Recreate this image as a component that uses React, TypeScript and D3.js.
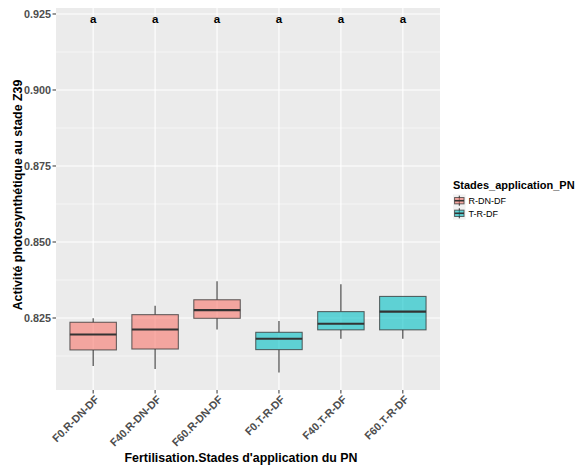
import React from "react";
import * as d3 from "d3";

// Groups (Fertilisation.Stades) and their application stage
const categories = ["F0.R-DN-DF", "F40.R-DN-DF", "F60.R-DN-DF", "F0.T-R-DF", "F40.T-R-DF", "F60.T-R-DF"];
const stages = ["R-DN-DF", "R-DN-DF", "R-DN-DF", "T-R-DF", "T-R-DF", "T-R-DF"];
// Five-number summaries per group
const whiskerLow = [0.8092, 0.8082, 0.8212, 0.8071, 0.8182, 0.8182];
const q1 = [0.8145, 0.8148, 0.8249, 0.8146, 0.8211, 0.8211];
const median = [0.8196, 0.8212, 0.8276, 0.8182, 0.8231, 0.8271];
const q3 = [0.8236, 0.8261, 0.8310, 0.8203, 0.8271, 0.8321];
const whiskerHigh = [0.8249, 0.8290, 0.8371, 0.8240, 0.8361, 0.8321];
// Significance letters
const letters = ["a", "a", "a", "a", "a", "a"];
const letterY = 0.9232;

const yTicks = [0.825, 0.85, 0.875, 0.9, 0.925];
const yMinor = [0.8125, 0.8375, 0.8625, 0.8875, 0.9125];
const yDomain = [0.80132, 0.92697];

const legendLevels = ["R-DN-DF", "T-R-DF"];
const legendColors = ["#F8766D", "#00BFC4"];

const W = 576;
const H = 469;
const panel = { left: 56, right: 440, top: 8, bottom: 390 };
const FONT = "'Liberation Sans', Arial, Helvetica, sans-serif";

export default function App() {
  // discrete axis: expansion of 0.6 units each side
  const x = d3
    .scalePoint<string>()
    .domain(categories)
    .range([panel.left, panel.right])
    .padding(0.6);
  const cx = (i: number) => x(categories[i]) as number;
  const step = x.step();
  const y = d3.scaleLinear().domain(yDomain).range([panel.bottom, panel.top]);
  const color = d3.scaleOrdinal<string, string>().domain(legendLevels).range(legendColors);
  const boxW = step * 0.75;

  const keyX = 453;
  const keySize = 12.6;
  const keyY0 = 194.4;

  return (
    <svg width={W} height={H} style={{ position: "absolute", left: 0, top: 0, background: "#fff" }} fontFamily={FONT}>
      <rect x={0} y={0} width={W} height={H} fill="#fff" />
      {/* panel */}
      <rect x={panel.left} y={panel.top} width={panel.right - panel.left} height={panel.bottom - panel.top} fill="#EBEBEB" />
      {yMinor.map((v) => (
        <line key={"mn" + v} x1={panel.left} x2={panel.right} y1={y(v)} y2={y(v)} stroke="#fff" strokeWidth={0.55} />
      ))}
      {yTicks.map((v) => (
        <line key={"mj" + v} x1={panel.left} x2={panel.right} y1={y(v)} y2={y(v)} stroke="#fff" strokeWidth={1.1} />
      ))}
      {categories.map((c, i) => (
        <line key={"vx" + c} x1={cx(i)} x2={cx(i)} y1={panel.top} y2={panel.bottom} stroke="#fff" strokeWidth={1.1} />
      ))}

      {/* boxes */}
      {categories.map((c, i) => {
        const xc = cx(i);
        const fill = color(stages[i]);
        return (
          <g key={"b" + c}>
            <line x1={xc} x2={xc} y1={y(q3[i])} y2={y(whiskerHigh[i])} stroke="#333" strokeWidth={1.07} />
            <line x1={xc} x2={xc} y1={y(q1[i])} y2={y(whiskerLow[i])} stroke="#333" strokeWidth={1.07} />
            <rect
              x={xc - boxW / 2}
              y={y(q3[i])}
              width={boxW}
              height={y(q1[i]) - y(q3[i])}
              fill={fill}
              fillOpacity={0.6}
              stroke="#333"
              strokeOpacity={0.75}
              strokeWidth={1.07}
            />
            <line x1={xc - boxW / 2} x2={xc + boxW / 2} y1={y(median[i])} y2={y(median[i])} stroke="#333" strokeWidth={2.1} />
          </g>
        );
      })}

      {/* letters */}
      {categories.map((c, i) => (
        <text key={"l" + c} x={cx(i)} y={y(letterY)} dy="0.35em" textAnchor="middle" fontSize={11.5} fontWeight="bold" fill="#000">
          {letters[i]}
        </text>
      ))}

      {/* y axis */}
      {yTicks.map((v) => (
        <g key={"yt" + v}>
          <line x1={panel.left - 3.5} x2={panel.left} y1={y(v)} y2={y(v)} stroke="#333" strokeWidth={1} />
          <text x={panel.left - 5} y={y(v)} dy="0.36em" textAnchor="end" fontSize={10.8} fontWeight="bold" fill="#4D4D4D">
            {d3.format(".3f")(v)}
          </text>
        </g>
      ))}

      {/* x axis */}
      {categories.map((c, i) => (
        <g key={"xt" + c}>
          <line x1={cx(i)} x2={cx(i)} y1={panel.bottom} y2={panel.bottom + 3.5} stroke="#333" strokeWidth={1} />
          <text
            transform={`translate(${cx(i) + 1},${panel.bottom + 4.5}) rotate(-45)`}
            dy="0.72em"
            textAnchor="end"
            fontSize={10.8}
            fontWeight="bold"
            fill="#4D4D4D"
          >
            {c}
          </text>
        </g>
      ))}

      {/* axis titles */}
      <text x={241} y={462} textAnchor="middle" fontSize={12.4} fontWeight="bold" fill="#000">
        Fertilisation.Stades d'application du PN
      </text>
      <text transform="translate(21.5,195) rotate(-90)" textAnchor="middle" fontSize={12.4} fontWeight="bold" fill="#000">
        Activité photosynthétique au stade Z39
      </text>

      {/* legend */}
      <text x={keyX} y={189} fontSize={11} fontWeight="bold" fill="#000">
        Stades_application_PN
      </text>
      {legendLevels.map((lv, j) => {
        const ky = keyY0 + j * keySize;
        const kc = keyX + keySize / 2;
        return (
          <g key={"lg" + lv}>
            <rect x={keyX} y={ky} width={keySize} height={keySize} fill="#F2F2F2" />
            <line x1={kc} x2={kc} y1={ky + keySize * 0.1} y2={ky + keySize * 0.9} stroke="#333" strokeWidth={1} />
            <rect
              x={keyX + keySize * 0.125}
              y={ky + keySize * 0.25}
              width={keySize * 0.75}
              height={keySize * 0.5}
              fill={color(lv)}
              fillOpacity={0.6}
              stroke="#333"
              strokeOpacity={0.75}
              strokeWidth={1}
            />
            <line x1={keyX + keySize * 0.125} x2={keyX + keySize * 0.875} y1={ky + keySize / 2} y2={ky + keySize / 2} stroke="#333" strokeWidth={1.6} />
            <text x={keyX + keySize + 3} y={ky + keySize / 2} dy="0.36em" fontSize={9} fill="#000">
              {lv}
            </text>
          </g>
        );
      })}
    </svg>
  );
}
